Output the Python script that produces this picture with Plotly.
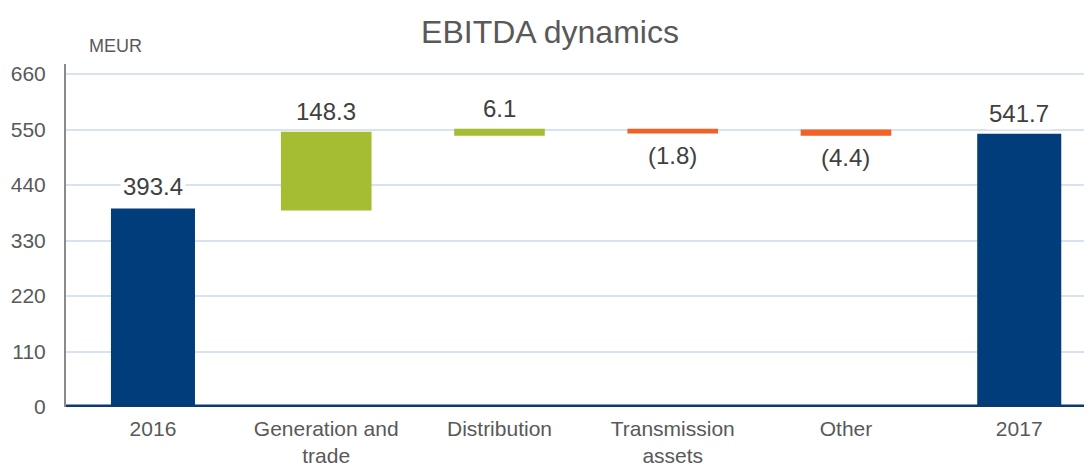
import plotly.graph_objects as go

# EBITDA bridge, MEUR
categories = ["2016", "Generation and<br>trade", "Distribution", "Transmission<br>assets", "Other", "2017"]
start_total = 393.4
deltas = [148.3, 6.1, -1.8, -4.4]
end_total = 541.7
y_ticks = [0, 110, 220, 330, 440, 550, 660]

BLUE = "#023D7B"
GREEN = "#A4BD32"
RED = "#F26125"
FONT = "Liberation Sans, Arial, sans-serif"

# running totals for the floating bars
bases = []
run = start_total
for d in deltas:
    bases.append(run)
    run += d

fig = go.Figure()

# totals
fig.add_trace(go.Bar(
    x=[categories[0], categories[-1]],
    y=[start_total, end_total],
    width=0.485,
    marker=dict(color=BLUE, line=dict(width=0)),
    hoverinfo="skip",
))

# changes
delta_cats = categories[1:-1]
delta_cols = [GREEN if d >= 0 else RED for d in deltas]
fig.add_trace(go.Bar(
    x=delta_cats,
    y=deltas,
    base=bases,
    width=0.5,
    marker=dict(color=delta_cols, line=dict(color=delta_cols, width=4)),
    hoverinfo="skip",
))

def fmt(v):
    return f"{v:.1f}" if v >= 0 else f"({abs(v):.1f})"

# label positions (category index, value level, text, pixel shift)
annots = [(0, start_total, fmt(start_total), 22)]
for i, (b, d) in enumerate(zip(bases, deltas), start=1):
    annots.append((i, b + d, fmt(d), 22 if d >= 0 else -24))
annots.append((len(categories) - 1, end_total, fmt(end_total), 20))

for xi, yv, txt, sh in annots:
    fig.add_annotation(
        x=xi, y=yv, text=txt, yshift=sh,
        xref="x", yref="y", showarrow=False, yanchor="middle",
        font=dict(family=FONT, size=24, color="#404040"),
        bgcolor="white", borderpad=2,
    )

fig.add_annotation(
    text="MEUR", xref="paper", yref="paper", x=0.048, y=1.052,
    showarrow=False, xanchor="center", yanchor="middle",
    font=dict(family=FONT, size=18, color="#595959"),
)

# thick baseline
fig.add_shape(type="line", xref="paper", yref="y", x0=0, x1=1, y0=0, y1=0,
              line=dict(color="#0A3A6E", width=5), layer="above")

# page body adds ~8px offset, so the figure is 8px smaller
W, H = 1084, 457
fig.update_layout(
    width=W, height=H,
    margin=dict(l=58, r=0, t=56, b=58),
    plot_bgcolor="white", paper_bgcolor="white",
    showlegend=False,
    barmode="overlay",
    title=dict(text="EBITDA dynamics", x=0.5, xanchor="center",
               y=1 - 24 / H, yanchor="middle", yref="container",
               font=dict(family=FONT, size=32, color="#595959")),
    font=dict(family=FONT, color="#595959"),
)

fig.update_xaxes(
    type="category",
    categoryorder="array", categoryarray=categories,
    range=[-0.502, 5.42],
    automargin=False,
    showgrid=False, showline=False, ticks="",
    tickfont=dict(family=FONT, size=21, color="#595959"),
    ticklabelstandoff=7,
)

fig.update_yaxes(
    range=[0, 680],
    tickvals=y_ticks,
    automargin=False,
    showgrid=True, gridcolor="#D8E2F0", gridwidth=1.5,
    zeroline=False,
    showline=True, linecolor="#8A8A8A", linewidth=2,
    ticks="", ticklabelstandoff=14,
    tickfont=dict(family=FONT, size=21, color="#595959"),
)

fig.write_html("out.html")
